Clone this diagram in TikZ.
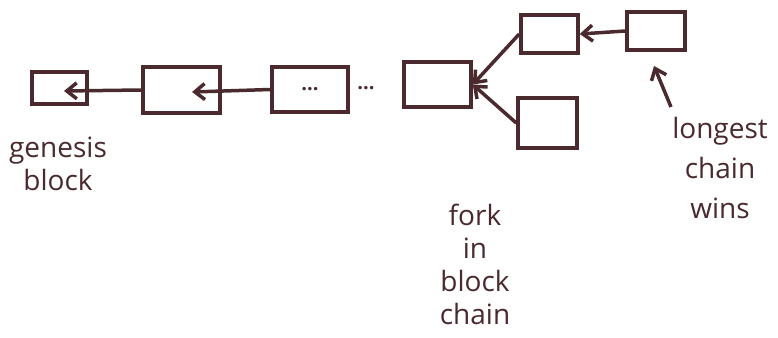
\documentclass[tikz,border=0pt]{standalone}
\usepackage{fontspec}
\setmainfont{Open Sans}
\usetikzlibrary{arrows.meta}
\definecolor{ink}{HTML}{4A2A2E}
\begin{document}
\begin{tikzpicture}[x=1pt,y=-1pt,
  blk/.style={draw=ink,line width=3.5pt,rectangle,inner sep=0pt,text=ink,font=\bfseries\fontsize{20}{22}\selectfont},
  conn/.style={draw=ink,line width=3.5pt,-{Straight Barb[length=10pt,width=16pt,line width=3.5pt]}},
  lbl/.style={text=ink,font=\fontsize{28}{33}\selectfont,inner sep=0pt,align=center}]
\useasboundingbox (0,0) rectangle (778,337);
\node[blk,minimum width=55pt,minimum height=32pt] (gen) at (59.5,88) {};
\node[blk,minimum width=77pt,minimum height=46pt] (b2) at (181.5,90) {};
\node[blk,minimum width=76pt,minimum height=45pt] (b3) at (310,89.5) {...};
\node[text=ink,font=\bfseries\fontsize{20}{22}\selectfont] (dots) at (366,88) {...};
\node[blk,minimum width=67pt,minimum height=45pt] (b4) at (437.5,84.5) {};
\node[blk,minimum width=57pt,minimum height=38pt] (up) at (549.5,34) {};
\node[blk,minimum width=59pt,minimum height=50pt] (low) at (547.5,123) {};
\node[blk,minimum width=58pt,minimum height=38pt] (rt) at (656,31) {};
\coordinate (ga) at (64,91);
\coordinate (b2a) at (192,92);
\coordinate (lt) at (671,107);
\coordinate (lh) at (654,66);
\draw[conn] (b2.west) -- (ga);
\draw[conn] (b3.west) -- (b2a);
\draw[conn] (up.west) -- (b4.east);
\draw[conn] (low.west) -- (b4.east);
\draw[conn] (rt.west) -- (up.east);
\draw[conn] (lt) -- (lh);
\node[lbl] (lgen) at (58,164) {genesis\\block};
\node[lbl] (lfork) at (475,264) {fork\\in\\block\\chain};
\node[lbl,font=\fontsize{28}{40}\selectfont] (llong) at (720,168) {longest\\chain\\wins};
\end{tikzpicture}
\end{document}
